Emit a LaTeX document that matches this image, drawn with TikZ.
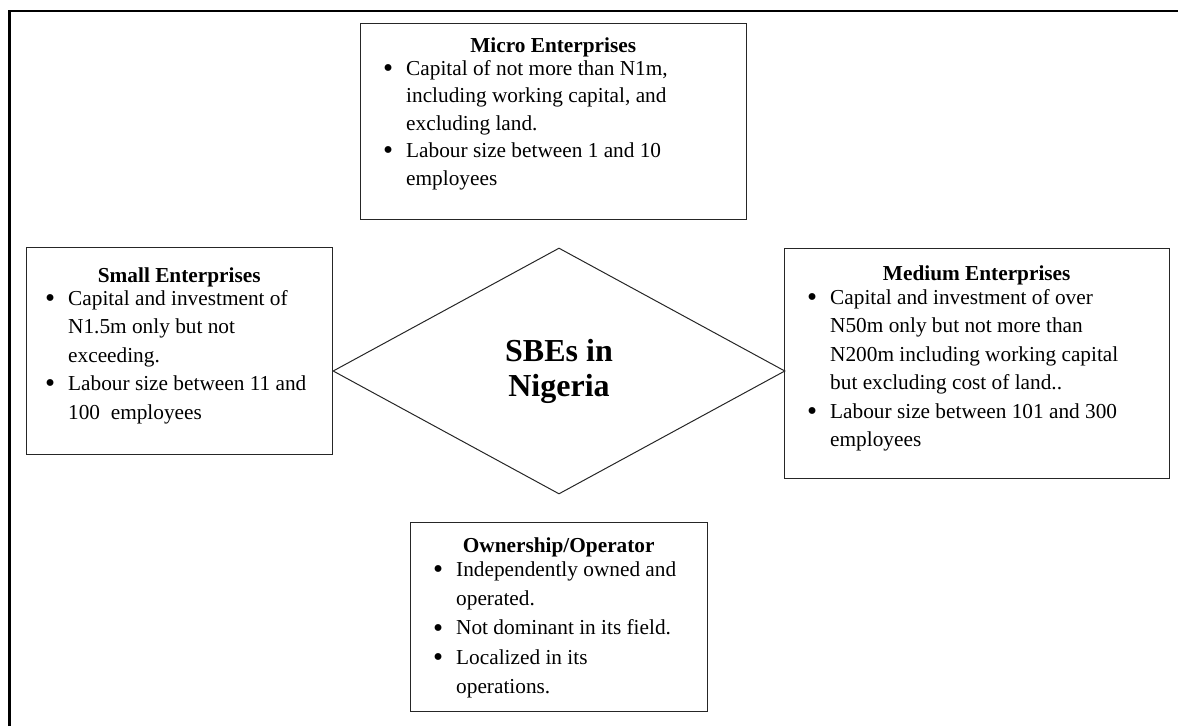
\documentclass[tikz,border=0pt]{standalone}
\usepackage{fontspec}
\setmainfont{Liberation Serif}
\usetikzlibrary{shapes.geometric}
\newcommand\bul{\noindent\llap{\raisebox{-2.4pt}{\scalebox{1.35}{\textbullet}}\hspace{13pt}}}
\begin{document}
\begin{tikzpicture}[x=1pt,y=-1pt,
  frame/.style={line width=2.6pt, line join=miter},
  ebox/.style={draw=black!85, line width=1.4pt, inner sep=0pt, anchor=north west},
  etext/.style={anchor=base west, inner sep=0pt, font=\fontsize{21.3}{28.5}\selectfont},
  core/.style={diamond, draw=black!85, line width=1pt, inner sep=0pt, aspect=1.84,
    minimum width=452pt, minimum height=246pt, align=center,
    font=\bfseries\fontsize{32}{35}\selectfont}
]
\useasboundingbox (0,0) rectangle (1178,726);
\coordinate (fa) at (9.5,726);
\coordinate (fb) at (9.5,11);
\coordinate (fc) at (1178,11);
\draw[frame] (fa) -- (fb) -- (fc);

% boxes
\node[ebox, minimum width=386pt, minimum height=196pt] (micro) at (360,23) {};
\node[ebox, minimum width=306pt, minimum height=207pt] (small) at (26,247) {};
\node[ebox, minimum width=385pt, minimum height=230pt] (medium) at (784,248) {};
\node[ebox, minimum width=297pt, minimum height=189pt] (own) at (410,522) {};

\node[core] (sbe) at (559,371) {SBEs in\\Nigeria};

% texts
\node[etext] (microtxt) at (360,52) {\parbox[t]{386pt}{\fontsize{21.3}{27.5}\selectfont
\centering\textbf{Micro Enterprises}\par\vspace{-4.5pt}%
\raggedright\leftskip=46pt
\bul Capital of not more than N1m,\\ including working capital, and\\ excluding land.\par
\bul Labour size between 1 and 10\\ employees\par}};

\node[etext] (smalltxt) at (26,282) {\parbox[t]{306pt}{\centering\textbf{Small Enterprises}\par\vspace{-5.5pt}%
\raggedright\leftskip=42pt
\bul Capital and investment of\\ N1.5m only but not\\ exceeding.\par
\bul Labour size between 11 and\\ 100\ \ employees\par}};

\node[etext] (mediumtxt) at (784,280) {\parbox[t]{385pt}{\centering\textbf{Medium Enterprises}\par\vspace{-4.5pt}%
\raggedright\leftskip=46pt
\bul Capital and investment of over\\ N50m only but not more than\\ N200m including working capital\\ but excluding cost of land..\par
\bul Labour size between 101 and 300\\ employees\par}};

\node[etext] (owntxt) at (410,552) {\parbox[t]{297pt}{\fontsize{21.3}{29.3}\selectfont
\centering\textbf{Ownership/Operator}\par\vspace{-5pt}%
\raggedright\leftskip=46pt
\bul Independently owned and\\ operated.\par
\bul Not dominant in its field.\par
\bul Localized in its\\ operations.\par}};
\end{tikzpicture}
\end{document}
